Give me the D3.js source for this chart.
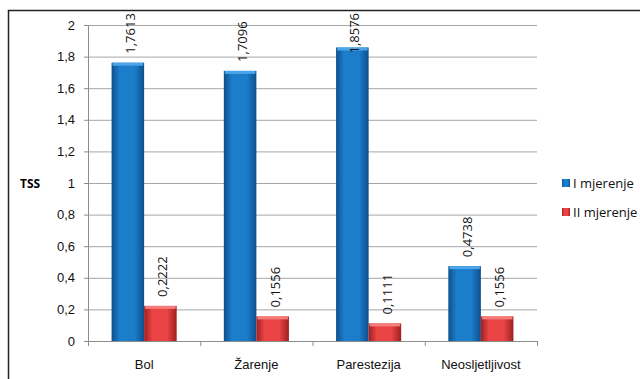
<!DOCTYPE html>
<html>
<head>
<meta charset="utf-8">
<script src="https://cdn.jsdelivr.net/npm/d3@7"></script>
<style>
  body { margin: 0; background: #fff; }
  svg { display: block; font-family: "Open Sans", "DejaVu Sans", sans-serif; }
</style>
</head>
<body>
<div id="chart"></div>
<script>
// Data
const categories = ["Bol", "Žarenje", "Parestezija", "Neosljetljivost"];
const series = ["I mjerenje", "II mjerenje"];
const seriesI = [1.7613, 1.7096, 1.8576, 0.4738];
const seriesII = [0.2222, 0.1556, 0.1111, 0.1556];
const yTicks = [0, 0.2, 0.4, 0.6, 0.8, 1, 1.2, 1.4, 1.6, 1.8, 2];

const width = 640, height = 379;
const margin = { top: 25, right: 103, bottom: 38, left: 88 };
const innerW = width - margin.left - margin.right;
const innerH = height - margin.top - margin.bottom;

const fmt = v => String(v).replace(".", ",");

const svg = d3.select("#chart").append("svg")
    .attr("width", width)
    .attr("height", height);

// gradients
const defs = svg.append("defs");
function grad(id, edge, mid) {
    const g = defs.append("linearGradient").attr("id", id)
        .attr("x1", "0").attr("x2", "1").attr("y1", "0").attr("y2", "0");
    g.append("stop").attr("offset", "0%").attr("stop-color", edge);
    g.append("stop").attr("offset", "25%").attr("stop-color", mid);
    g.append("stop").attr("offset", "70%").attr("stop-color", mid);
    g.append("stop").attr("offset", "100%").attr("stop-color", edge);
}
grad("gBlue", "#0d4f8c", "#1c7ecb");
grad("gRed", "#a01e21", "#ea4544");
const colors = ["url(#gBlue)", "url(#gRed)"];
const topColors = ["#4aa6e8", "#f47c7a"];

// outer border
svg.append("rect")
    .attr("x", 8.5).attr("y", 10.5)
    .attr("width", width).attr("height", height)
    .attr("fill", "none")
    .attr("stroke", "#222")
    .attr("stroke-width", 1.5);

const g = svg.append("g").attr("transform", `translate(${margin.left},${margin.top})`);

const x0 = d3.scaleBand().domain(categories).range([0, innerW]).paddingInner(0).paddingOuter(0);
const x1 = d3.scaleBand().domain(series).range([x0.bandwidth() * 0.21, x0.bandwidth() * 0.79]);
const y = d3.scaleLinear().domain([0, 2]).range([innerH, 0]);

// grid
g.selectAll(".grid").data(yTicks.slice(1)).enter().append("line")
    .attr("x1", 0).attr("x2", innerW)
    .attr("y1", d => y(d) + 0.5).attr("y2", d => y(d) + 0.5)
    .attr("stroke", "#a6a6a6");

// y axis
const yAxis = g.append("g")
    .call(d3.axisLeft(y).tickValues(yTicks).tickFormat(fmt).tickSize(4).tickPadding(9));
yAxis.select(".domain").attr("stroke", "#8c8c8c");
yAxis.selectAll(".tick line").attr("stroke", "#8c8c8c");
yAxis.selectAll("text").attr("font-size", 13).attr("fill", "#111").style("font-family", "inherit");

// x axis
const xAxis = g.append("g").attr("transform", `translate(0,${innerH})`)
    .call(d3.axisBottom(x0).tickSize(0).tickPadding(19));
xAxis.select(".domain").attr("stroke", "#8c8c8c");
xAxis.selectAll("text").attr("font-size", 13).attr("fill", "#111").style("font-family", "inherit");
xAxis.selectAll(".sep").data(d3.range(categories.length + 1)).enter().append("line")
    .attr("class", "sep")
    .attr("x1", i => i * x0.bandwidth() + 0.5).attr("x2", i => i * x0.bandwidth() + 0.5)
    .attr("y1", 0).attr("y2", 5)
    .attr("stroke", "#8c8c8c");

// bars
const rows = categories.map((c, i) => ({ cat: c, vals: [seriesI[i], seriesII[i]] }));
const grp = g.selectAll(".cat").data(rows).enter().append("g")
    .attr("transform", d => `translate(${x0(d.cat)},0)`);

const bars = grp.selectAll(".bar")
    .data(d => d.vals.map((v, j) => ({ s: series[j], v, j })))
    .enter();

bars.append("rect")
    .attr("x", d => x1(d.s))
    .attr("y", d => y(d.v))
    .attr("width", x1.bandwidth())
    .attr("height", d => y(0) - y(d.v))
    .attr("fill", d => colors[d.j]);

bars.append("rect")
    .attr("x", d => x1(d.s) + 1)
    .attr("y", d => y(d.v))
    .attr("width", x1.bandwidth() - 2)
    .attr("height", 3)
    .attr("fill", d => topColors[d.j]);

// value labels, kept inside the chart area like Excel does
const labels = bars.append("text")
    .attr("font-size", 13)
    .attr("fill", "#111")
    .text(d => fmt(d.v));
labels.each(function(d) {
    const len = this.getComputedTextLength();
    const start = Math.max(y(d.v) - 9, len - 12);
    d3.select(this).attr("transform",
        `translate(${x1(d.s) + x1.bandwidth() / 2 + 7},${start}) rotate(-90)`);
});

// axis title
svg.append("text")
    .attr("x", 20).attr("y", 188)
    .attr("font-size", 12)
    .attr("font-weight", "bold")
    .text("TSS");

// legend
const legend = svg.selectAll(".legend").data(series).enter().append("g")
    .attr("transform", (d, i) => `translate(562,${179 + i * 29})`);
legend.append("rect")
    .attr("width", 8).attr("height", 8)
    .attr("fill", (d, i) => colors[i]);
legend.append("text")
    .attr("x", 11).attr("y", 8.5)
    .attr("font-size", 13)
    .attr("fill", "#111")
    .text(d => d);
</script>
</body>
</html>
